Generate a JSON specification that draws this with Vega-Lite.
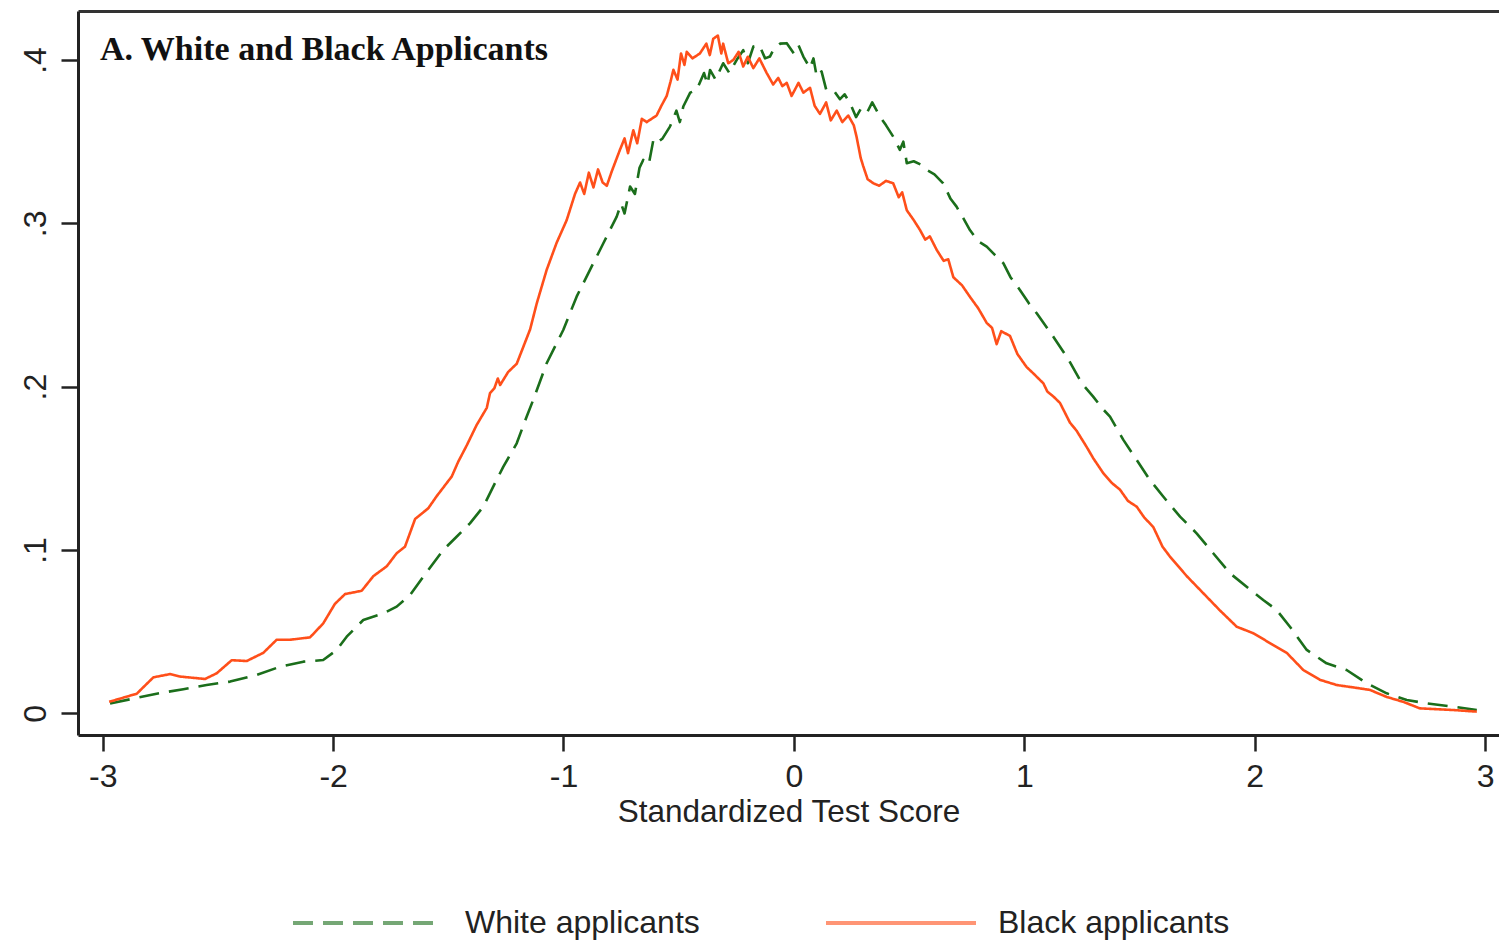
{
  "$schema": "https://vega.github.io/schema/vega-lite/v6.json",
  "width": 1421,
  "height": 724,
  "autosize": "none",
  "padding": {"left": 78, "top": 11, "right": 0, "bottom": 207},
  "background": "white",
  "config": {
    "view": {"stroke": null},
    "font": "Liberation Sans",
    "legend": {
      "orient": "none",
      "legendX": 213,
      "legendY": 835,
      "direction": "horizontal",
      "symbolType": "stroke",
      "symbolSize": 22500,
      "symbolStrokeWidth": 4,
      "symbolOpacity": 0.6,
      "labelFontSize": 32,
      "labelFont": "Liberation Sans",
      "labelColor": "#222222",
      "labelLimit": 0,
      "labelOffset": 20,
      "columnPadding": 118,
      "padding": 0
    }
  },
  "datasets": {
    "curves": [
      {"group": "White applicants", "score": -2.968, "density": 0.006},
      {"group": "White applicants", "score": -2.867, "density": 0.009},
      {"group": "White applicants", "score": -2.766, "density": 0.012},
      {"group": "White applicants", "score": -2.65, "density": 0.0147},
      {"group": "White applicants", "score": -2.549, "density": 0.0173},
      {"group": "White applicants", "score": -2.447, "density": 0.0194},
      {"group": "White applicants", "score": -2.332, "density": 0.0235},
      {"group": "White applicants", "score": -2.23, "density": 0.0285},
      {"group": "White applicants", "score": -2.129, "density": 0.0316},
      {"group": "White applicants", "score": -2.043, "density": 0.0326},
      {"group": "White applicants", "score": -1.984, "density": 0.0388},
      {"group": "White applicants", "score": -1.941, "density": 0.0469},
      {"group": "White applicants", "score": -1.869, "density": 0.0571},
      {"group": "White applicants", "score": -1.782, "density": 0.0612},
      {"group": "White applicants", "score": -1.724, "density": 0.0653},
      {"group": "White applicants", "score": -1.666, "density": 0.0724},
      {"group": "White applicants", "score": -1.608, "density": 0.0837},
      {"group": "White applicants", "score": -1.565, "density": 0.0919},
      {"group": "White applicants", "score": -1.522, "density": 0.1},
      {"group": "White applicants", "score": -1.464, "density": 0.1081},
      {"group": "White applicants", "score": -1.406, "density": 0.1163},
      {"group": "White applicants", "score": -1.348, "density": 0.1265},
      {"group": "White applicants", "score": -1.305, "density": 0.1388},
      {"group": "White applicants", "score": -1.261, "density": 0.151},
      {"group": "White applicants", "score": -1.203, "density": 0.1653},
      {"group": "White applicants", "score": -1.16, "density": 0.1816},
      {"group": "White applicants", "score": -1.131, "density": 0.192},
      {"group": "White applicants", "score": -1.073, "density": 0.2143},
      {"group": "White applicants", "score": -1.001, "density": 0.2347},
      {"group": "White applicants", "score": -0.943, "density": 0.2551},
      {"group": "White applicants", "score": -0.885, "density": 0.2715},
      {"group": "White applicants", "score": -0.827, "density": 0.2878},
      {"group": "White applicants", "score": -0.769, "density": 0.3041},
      {"group": "White applicants", "score": -0.75, "density": 0.312},
      {"group": "White applicants", "score": -0.735, "density": 0.306},
      {"group": "White applicants", "score": -0.711, "density": 0.3225},
      {"group": "White applicants", "score": -0.69, "density": 0.318},
      {"group": "White applicants", "score": -0.67, "density": 0.334},
      {"group": "White applicants", "score": -0.654, "density": 0.3388},
      {"group": "White applicants", "score": -0.63, "density": 0.336},
      {"group": "White applicants", "score": -0.61, "density": 0.351},
      {"group": "White applicants", "score": -0.596, "density": 0.349},
      {"group": "White applicants", "score": -0.57, "density": 0.352},
      {"group": "White applicants", "score": -0.538, "density": 0.3592},
      {"group": "White applicants", "score": -0.51, "density": 0.369},
      {"group": "White applicants", "score": -0.495, "density": 0.362},
      {"group": "White applicants", "score": -0.48, "density": 0.3715},
      {"group": "White applicants", "score": -0.45, "density": 0.38},
      {"group": "White applicants", "score": -0.422, "density": 0.3817},
      {"group": "White applicants", "score": -0.39, "density": 0.392},
      {"group": "White applicants", "score": -0.375, "density": 0.385},
      {"group": "White applicants", "score": -0.364, "density": 0.3939},
      {"group": "White applicants", "score": -0.34, "density": 0.388},
      {"group": "White applicants", "score": -0.307, "density": 0.398},
      {"group": "White applicants", "score": -0.28, "density": 0.392},
      {"group": "White applicants", "score": -0.248, "density": 0.4001},
      {"group": "White applicants", "score": -0.22, "density": 0.406},
      {"group": "White applicants", "score": -0.2, "density": 0.398},
      {"group": "White applicants", "score": -0.176, "density": 0.4082},
      {"group": "White applicants", "score": -0.15, "density": 0.409},
      {"group": "White applicants", "score": -0.125, "density": 0.401},
      {"group": "White applicants", "score": -0.104, "density": 0.4021},
      {"group": "White applicants", "score": -0.089, "density": 0.4062},
      {"group": "White applicants", "score": -0.06, "density": 0.41},
      {"group": "White applicants", "score": -0.031, "density": 0.4103},
      {"group": "White applicants", "score": 0.0, "density": 0.404},
      {"group": "White applicants", "score": 0.02, "density": 0.409},
      {"group": "White applicants", "score": 0.041, "density": 0.4021},
      {"group": "White applicants", "score": 0.07, "density": 0.395},
      {"group": "White applicants", "score": 0.085, "density": 0.401},
      {"group": "White applicants", "score": 0.099, "density": 0.3898},
      {"group": "White applicants", "score": 0.12, "density": 0.393},
      {"group": "White applicants", "score": 0.14, "density": 0.382},
      {"group": "White applicants", "score": 0.171, "density": 0.3817},
      {"group": "White applicants", "score": 0.2, "density": 0.376},
      {"group": "White applicants", "score": 0.22, "density": 0.379},
      {"group": "White applicants", "score": 0.244, "density": 0.3735},
      {"group": "White applicants", "score": 0.27, "density": 0.365},
      {"group": "White applicants", "score": 0.29, "density": 0.37},
      {"group": "White applicants", "score": 0.316, "density": 0.3674},
      {"group": "White applicants", "score": 0.34, "density": 0.374},
      {"group": "White applicants", "score": 0.374, "density": 0.3653},
      {"group": "White applicants", "score": 0.4, "density": 0.36},
      {"group": "White applicants", "score": 0.431, "density": 0.3531},
      {"group": "White applicants", "score": 0.46, "density": 0.345},
      {"group": "White applicants", "score": 0.475, "density": 0.35},
      {"group": "White applicants", "score": 0.49, "density": 0.3368},
      {"group": "White applicants", "score": 0.52, "density": 0.338},
      {"group": "White applicants", "score": 0.55, "density": 0.336},
      {"group": "White applicants", "score": 0.576, "density": 0.3327},
      {"group": "White applicants", "score": 0.61, "density": 0.33},
      {"group": "White applicants", "score": 0.648, "density": 0.3245},
      {"group": "White applicants", "score": 0.68, "density": 0.315},
      {"group": "White applicants", "score": 0.706, "density": 0.3102},
      {"group": "White applicants", "score": 0.74, "density": 0.302},
      {"group": "White applicants", "score": 0.764, "density": 0.2959},
      {"group": "White applicants", "score": 0.8, "density": 0.289},
      {"group": "White applicants", "score": 0.837, "density": 0.2857},
      {"group": "White applicants", "score": 0.87, "density": 0.281},
      {"group": "White applicants", "score": 0.909, "density": 0.2756},
      {"group": "White applicants", "score": 0.94, "density": 0.267},
      {"group": "White applicants", "score": 0.981, "density": 0.2592},
      {"group": "White applicants", "score": 1.02, "density": 0.251},
      {"group": "White applicants", "score": 1.054, "density": 0.2449},
      {"group": "White applicants", "score": 1.126, "density": 0.2306},
      {"group": "White applicants", "score": 1.19, "density": 0.217},
      {"group": "White applicants", "score": 1.25, "density": 0.202},
      {"group": "White applicants", "score": 1.299, "density": 0.1939},
      {"group": "White applicants", "score": 1.343, "density": 0.186},
      {"group": "White applicants", "score": 1.372, "density": 0.1816},
      {"group": "White applicants", "score": 1.43, "density": 0.1674},
      {"group": "White applicants", "score": 1.488, "density": 0.1551},
      {"group": "White applicants", "score": 1.545, "density": 0.1429},
      {"group": "White applicants", "score": 1.603, "density": 0.1327},
      {"group": "White applicants", "score": 1.676, "density": 0.1204},
      {"group": "White applicants", "score": 1.748, "density": 0.1102},
      {"group": "White applicants", "score": 1.82, "density": 0.098},
      {"group": "White applicants", "score": 1.893, "density": 0.0857},
      {"group": "White applicants", "score": 1.965, "density": 0.0775},
      {"group": "White applicants", "score": 2.037, "density": 0.0694},
      {"group": "White applicants", "score": 2.095, "density": 0.0633},
      {"group": "White applicants", "score": 2.153, "density": 0.053},
      {"group": "White applicants", "score": 2.226, "density": 0.0388},
      {"group": "White applicants", "score": 2.312, "density": 0.0306},
      {"group": "White applicants", "score": 2.399, "density": 0.0265},
      {"group": "White applicants", "score": 2.486, "density": 0.0184},
      {"group": "White applicants", "score": 2.573, "density": 0.0122},
      {"group": "White applicants", "score": 2.66, "density": 0.0081},
      {"group": "White applicants", "score": 2.747, "density": 0.0061},
      {"group": "White applicants", "score": 2.862, "density": 0.004},
      {"group": "White applicants", "score": 2.964, "density": 0.002},
      {"group": "Black applicants", "score": -2.972, "density": 0.007},
      {"group": "Black applicants", "score": -2.852, "density": 0.012},
      {"group": "Black applicants", "score": -2.78, "density": 0.022},
      {"group": "Black applicants", "score": -2.708, "density": 0.024},
      {"group": "Black applicants", "score": -2.665, "density": 0.0225},
      {"group": "Black applicants", "score": -2.556, "density": 0.021},
      {"group": "Black applicants", "score": -2.505, "density": 0.0245},
      {"group": "Black applicants", "score": -2.44, "density": 0.0325},
      {"group": "Black applicants", "score": -2.375, "density": 0.032},
      {"group": "Black applicants", "score": -2.303, "density": 0.037},
      {"group": "Black applicants", "score": -2.245, "density": 0.045},
      {"group": "Black applicants", "score": -2.187, "density": 0.045},
      {"group": "Black applicants", "score": -2.1, "density": 0.0465},
      {"group": "Black applicants", "score": -2.043, "density": 0.055},
      {"group": "Black applicants", "score": -1.992, "density": 0.067},
      {"group": "Black applicants", "score": -1.948, "density": 0.073},
      {"group": "Black applicants", "score": -1.876, "density": 0.075},
      {"group": "Black applicants", "score": -1.825, "density": 0.084},
      {"group": "Black applicants", "score": -1.767, "density": 0.09},
      {"group": "Black applicants", "score": -1.724, "density": 0.098},
      {"group": "Black applicants", "score": -1.688, "density": 0.102},
      {"group": "Black applicants", "score": -1.644, "density": 0.119},
      {"group": "Black applicants", "score": -1.587, "density": 0.1255},
      {"group": "Black applicants", "score": -1.55, "density": 0.133},
      {"group": "Black applicants", "score": -1.485, "density": 0.145},
      {"group": "Black applicants", "score": -1.457, "density": 0.154},
      {"group": "Black applicants", "score": -1.42, "density": 0.164},
      {"group": "Black applicants", "score": -1.377, "density": 0.1765},
      {"group": "Black applicants", "score": -1.333, "density": 0.187},
      {"group": "Black applicants", "score": -1.319, "density": 0.196},
      {"group": "Black applicants", "score": -1.3, "density": 0.199},
      {"group": "Black applicants", "score": -1.285, "density": 0.205},
      {"group": "Black applicants", "score": -1.275, "density": 0.201},
      {"group": "Black applicants", "score": -1.24, "density": 0.209},
      {"group": "Black applicants", "score": -1.203, "density": 0.214},
      {"group": "Black applicants", "score": -1.145, "density": 0.235},
      {"group": "Black applicants", "score": -1.116, "density": 0.251},
      {"group": "Black applicants", "score": -1.073, "density": 0.2715},
      {"group": "Black applicants", "score": -1.03, "density": 0.288},
      {"group": "Black applicants", "score": -0.986, "density": 0.302},
      {"group": "Black applicants", "score": -0.95, "density": 0.318},
      {"group": "Black applicants", "score": -0.928, "density": 0.325},
      {"group": "Black applicants", "score": -0.91, "density": 0.318},
      {"group": "Black applicants", "score": -0.89, "density": 0.331},
      {"group": "Black applicants", "score": -0.87, "density": 0.322},
      {"group": "Black applicants", "score": -0.85, "density": 0.333},
      {"group": "Black applicants", "score": -0.83, "density": 0.325},
      {"group": "Black applicants", "score": -0.812, "density": 0.323},
      {"group": "Black applicants", "score": -0.79, "density": 0.332},
      {"group": "Black applicants", "score": -0.755, "density": 0.345},
      {"group": "Black applicants", "score": -0.735, "density": 0.352},
      {"group": "Black applicants", "score": -0.72, "density": 0.343},
      {"group": "Black applicants", "score": -0.697, "density": 0.357},
      {"group": "Black applicants", "score": -0.68, "density": 0.349},
      {"group": "Black applicants", "score": -0.66, "density": 0.364},
      {"group": "Black applicants", "score": -0.639, "density": 0.362},
      {"group": "Black applicants", "score": -0.596, "density": 0.366},
      {"group": "Black applicants", "score": -0.575, "density": 0.372},
      {"group": "Black applicants", "score": -0.552, "density": 0.378},
      {"group": "Black applicants", "score": -0.535, "density": 0.387},
      {"group": "Black applicants", "score": -0.523, "density": 0.394},
      {"group": "Black applicants", "score": -0.505, "density": 0.388},
      {"group": "Black applicants", "score": -0.49, "density": 0.404},
      {"group": "Black applicants", "score": -0.475, "density": 0.397},
      {"group": "Black applicants", "score": -0.465, "density": 0.405},
      {"group": "Black applicants", "score": -0.44, "density": 0.401},
      {"group": "Black applicants", "score": -0.408, "density": 0.404},
      {"group": "Black applicants", "score": -0.38, "density": 0.41},
      {"group": "Black applicants", "score": -0.365, "density": 0.403},
      {"group": "Black applicants", "score": -0.35, "density": 0.413},
      {"group": "Black applicants", "score": -0.33, "density": 0.415},
      {"group": "Black applicants", "score": -0.315, "density": 0.404},
      {"group": "Black applicants", "score": -0.307, "density": 0.41},
      {"group": "Black applicants", "score": -0.285, "density": 0.398},
      {"group": "Black applicants", "score": -0.263, "density": 0.4},
      {"group": "Black applicants", "score": -0.24, "density": 0.405},
      {"group": "Black applicants", "score": -0.22, "density": 0.396},
      {"group": "Black applicants", "score": -0.2, "density": 0.402},
      {"group": "Black applicants", "score": -0.176, "density": 0.395},
      {"group": "Black applicants", "score": -0.15, "density": 0.401},
      {"group": "Black applicants", "score": -0.118, "density": 0.392},
      {"group": "Black applicants", "score": -0.09, "density": 0.385},
      {"group": "Black applicants", "score": -0.068, "density": 0.389},
      {"group": "Black applicants", "score": -0.05, "density": 0.384},
      {"group": "Black applicants", "score": -0.031, "density": 0.386},
      {"group": "Black applicants", "score": -0.01, "density": 0.378},
      {"group": "Black applicants", "score": 0.02, "density": 0.386},
      {"group": "Black applicants", "score": 0.041, "density": 0.38},
      {"group": "Black applicants", "score": 0.07, "density": 0.383},
      {"group": "Black applicants", "score": 0.09, "density": 0.372},
      {"group": "Black applicants", "score": 0.113, "density": 0.367},
      {"group": "Black applicants", "score": 0.14, "density": 0.374},
      {"group": "Black applicants", "score": 0.16, "density": 0.363},
      {"group": "Black applicants", "score": 0.186, "density": 0.369},
      {"group": "Black applicants", "score": 0.21, "density": 0.362},
      {"group": "Black applicants", "score": 0.236, "density": 0.366},
      {"group": "Black applicants", "score": 0.26, "density": 0.36},
      {"group": "Black applicants", "score": 0.272, "density": 0.353},
      {"group": "Black applicants", "score": 0.29, "density": 0.34},
      {"group": "Black applicants", "score": 0.301, "density": 0.335},
      {"group": "Black applicants", "score": 0.32, "density": 0.327},
      {"group": "Black applicants", "score": 0.345, "density": 0.3245},
      {"group": "Black applicants", "score": 0.37, "density": 0.323},
      {"group": "Black applicants", "score": 0.4, "density": 0.326},
      {"group": "Black applicants", "score": 0.431, "density": 0.3245},
      {"group": "Black applicants", "score": 0.455, "density": 0.316},
      {"group": "Black applicants", "score": 0.47, "density": 0.319},
      {"group": "Black applicants", "score": 0.49, "density": 0.308},
      {"group": "Black applicants", "score": 0.52, "density": 0.302},
      {"group": "Black applicants", "score": 0.547, "density": 0.296},
      {"group": "Black applicants", "score": 0.57, "density": 0.29},
      {"group": "Black applicants", "score": 0.59, "density": 0.292},
      {"group": "Black applicants", "score": 0.62, "density": 0.2837},
      {"group": "Black applicants", "score": 0.65, "density": 0.277},
      {"group": "Black applicants", "score": 0.67, "density": 0.278},
      {"group": "Black applicants", "score": 0.692, "density": 0.267},
      {"group": "Black applicants", "score": 0.73, "density": 0.262},
      {"group": "Black applicants", "score": 0.764, "density": 0.255},
      {"group": "Black applicants", "score": 0.8, "density": 0.248},
      {"group": "Black applicants", "score": 0.837, "density": 0.239},
      {"group": "Black applicants", "score": 0.86, "density": 0.236},
      {"group": "Black applicants", "score": 0.88, "density": 0.226},
      {"group": "Black applicants", "score": 0.9, "density": 0.234},
      {"group": "Black applicants", "score": 0.938, "density": 0.231},
      {"group": "Black applicants", "score": 0.97, "density": 0.22},
      {"group": "Black applicants", "score": 1.01, "density": 0.212},
      {"group": "Black applicants", "score": 1.04, "density": 0.208},
      {"group": "Black applicants", "score": 1.083, "density": 0.202},
      {"group": "Black applicants", "score": 1.1, "density": 0.197},
      {"group": "Black applicants", "score": 1.126, "density": 0.194},
      {"group": "Black applicants", "score": 1.155, "density": 0.19},
      {"group": "Black applicants", "score": 1.198, "density": 0.178},
      {"group": "Black applicants", "score": 1.227, "density": 0.173},
      {"group": "Black applicants", "score": 1.271, "density": 0.163},
      {"group": "Black applicants", "score": 1.3, "density": 0.156},
      {"group": "Black applicants", "score": 1.343, "density": 0.147},
      {"group": "Black applicants", "score": 1.38, "density": 0.141},
      {"group": "Black applicants", "score": 1.415, "density": 0.137},
      {"group": "Black applicants", "score": 1.45, "density": 0.13},
      {"group": "Black applicants", "score": 1.488, "density": 0.1265},
      {"group": "Black applicants", "score": 1.52, "density": 0.12},
      {"group": "Black applicants", "score": 1.56, "density": 0.114},
      {"group": "Black applicants", "score": 1.6, "density": 0.102},
      {"group": "Black applicants", "score": 1.632, "density": 0.096},
      {"group": "Black applicants", "score": 1.705, "density": 0.084},
      {"group": "Black applicants", "score": 1.777, "density": 0.0735},
      {"group": "Black applicants", "score": 1.849, "density": 0.063},
      {"group": "Black applicants", "score": 1.922, "density": 0.053},
      {"group": "Black applicants", "score": 1.994, "density": 0.049},
      {"group": "Black applicants", "score": 2.066, "density": 0.043},
      {"group": "Black applicants", "score": 2.139, "density": 0.037},
      {"group": "Black applicants", "score": 2.211, "density": 0.0265},
      {"group": "Black applicants", "score": 2.283, "density": 0.0205},
      {"group": "Black applicants", "score": 2.356, "density": 0.0173},
      {"group": "Black applicants", "score": 2.43, "density": 0.0158},
      {"group": "Black applicants", "score": 2.5, "density": 0.0143},
      {"group": "Black applicants", "score": 2.573, "density": 0.01},
      {"group": "Black applicants", "score": 2.645, "density": 0.007},
      {"group": "Black applicants", "score": 2.717, "density": 0.003},
      {"group": "Black applicants", "score": 2.79, "density": 0.0025},
      {"group": "Black applicants", "score": 2.862, "density": 0.002},
      {"group": "Black applicants", "score": 2.964, "density": 0.001}
    ],
    "heading": [{"label": "A. White and Black Applicants", "score": -3.012, "density": 0.4}]
  },
  "resolve": {"axis": {"x": "independent"}},
  "layer": [
    {
      "data": {"name": "curves"},
      "mark": {"type": "line", "strokeWidth": 2.6, "strokeJoin": "round"},
      "encoding": {
        "x": {
          "field": "score",
          "type": "quantitative",
          "scale": {"domain": [-3.1072, 3.0604], "nice": false, "zero": false},
          "axis": {
            "orient": "bottom",
            "values": [-3, -2, -1, 0, 1, 2, 3],
            "labelExpr": "datum.value < 0 ? '-' + abs(datum.value) : '' + datum.value",
            "labelFontSize": 32,
            "labelColor": "#222222",
            "labelPadding": 10,
            "tickSize": 16,
            "tickWidth": 2.5,
            "tickColor": "#222222",
            "domainWidth": 3,
            "domainColor": "#222222",
            "grid": false,
            "title": "Standardized Test Score",
            "titleFontSize": 31.5,
            "titleFontWeight": "normal",
            "titleColor": "#222222",
            "titlePadding": 4
          }
        },
        "y": {
          "field": "density",
          "type": "quantitative",
          "scale": {"domain": [-0.0133, 0.43], "nice": false, "zero": false},
          "axis": {
            "orient": "left",
            "values": [0, 0.1, 0.2, 0.3, 0.4],
            "labelExpr": "datum.value == 0 ? '0' : '.' + round(datum.value * 10)",
            "labelAngle": -90,
            "labelAlign": "center",
            "labelBaseline": "alphabetic",
            "labelFontSize": 32,
            "labelColor": "#222222",
            "labelPadding": 16,
            "tickSize": 17,
            "tickWidth": 2.5,
            "tickColor": "#222222",
            "domainWidth": 3,
            "domainColor": "#222222",
            "grid": false,
            "title": null
          }
        },
        "color": {
          "field": "group",
          "type": "nominal",
          "sort": ["White applicants", "Black applicants"],
          "scale": {"domain": ["White applicants", "Black applicants"], "range": ["#1B6E1B", "#FF4F1A"]},
          "legend": {"title": null}
        },
        "strokeDash": {
          "field": "group",
          "type": "nominal",
          "sort": ["White applicants", "Black applicants"],
          "scale": {"domain": ["White applicants", "Black applicants"], "range": [[20, 10], [1, 0]]},
          "legend": {"title": null}
        }
      }
    },
    {
      "data": {"name": "heading"},
      "mark": {"type": "text", "font": "Liberation Serif", "fontWeight": "bold", "fontSize": 34, "align": "left", "baseline": "alphabetic", "color": "#111111"},
      "encoding": {
        "x": {"field": "score", "type": "quantitative", "axis": null},
        "y": {"field": "density", "type": "quantitative"},
        "text": {"field": "label"}
      }
    },
    {
      "data": {"name": "heading"},
      "mark": {"type": "rule", "opacity": 0},
      "encoding": {
        "x": {
          "field": "score",
          "type": "quantitative",
          "axis": {"orient": "top", "labels": false, "ticks": false, "title": null, "grid": false, "domainWidth": 3, "domainColor": "#333333"}
        }
      }
    }
  ]
}
